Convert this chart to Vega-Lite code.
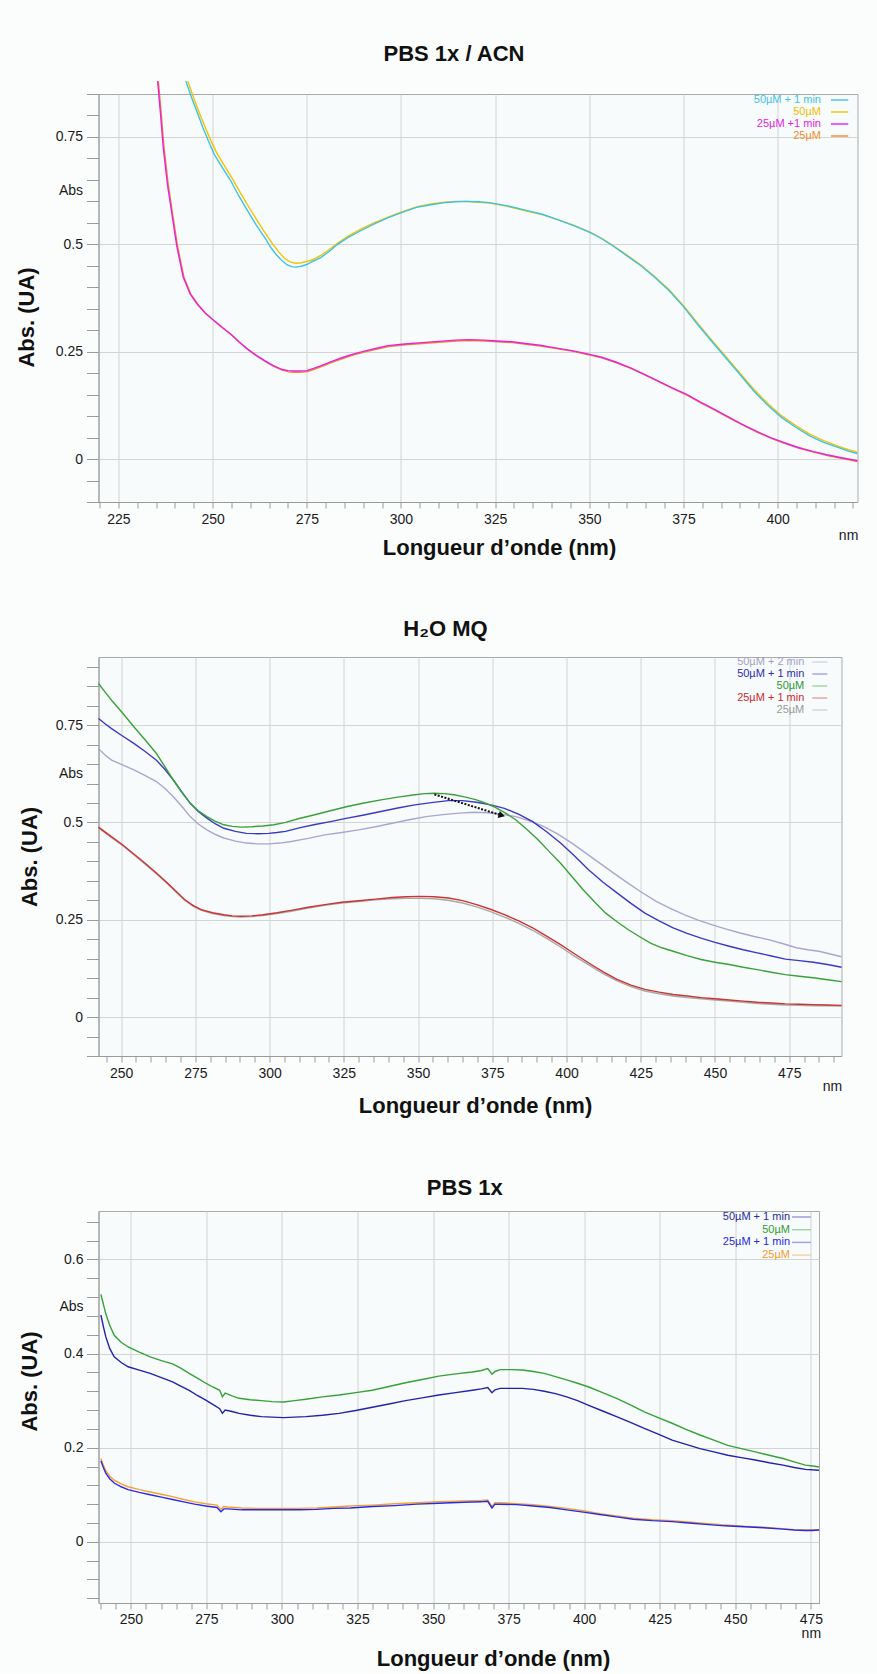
{
"$schema": "https://vega.github.io/schema/vega-lite/v6.json",
"padding": {"left": 14.5, "top": 42, "right": 18, "bottom": 2},
"background": "#fbfdfd",
"spacing": 155,
"bounds": "flush",
"resolve": {"scale": {"color": "independent", "x": "independent", "y": "independent"}, "legend": {"color": "independent"}, "axis": {"x": "independent", "y": "independent"}},
"config": {
  "view": {"stroke": "#a9a9a9", "fill": "#f7fbfb"},
  "font": "Liberation Sans",
  "axis": {"domainColor": "#9a9a9a", "tickColor": "#9a9a9a", "gridColor": "#d4d4d4", "labelColor": "#1a1a1a", "labelFont": "Liberation Sans", "labelFontSize": 14, "titleFont": "Liberation Sans", "titleFontSize": 22, "titleFontWeight": "bold", "titleColor": "#111111", "labelOverlap": false, "labelFlush": false, "labelBound": false},
  "title": {"font": "Liberation Sans", "fontSize": 22, "fontWeight": "bold", "color": "#111111", "baseline": "alphabetic", "frame": "group", "anchor": "middle"},
  "line": {"strokeWidth": 1.4, "clip": false}
},
"datasets": {
"acn": [
{"s":"50µM","x":243.4,"y":0.880},{"s":"50µM","x":245.0,"y":0.840},{"s":"50µM","x":246.5,"y":0.805},{"s":"50µM","x":248.0,"y":0.773},{"s":"50µM","x":249.5,"y":0.742},{"s":"50µM","x":251.0,"y":0.714},{"s":"50µM","x":253.0,"y":0.685},{"s":"50µM","x":255.3,"y":0.652},{"s":"50µM","x":257.5,"y":0.618},{"s":"50µM","x":259.8,"y":0.584},{"s":"50µM","x":262.0,"y":0.553},{"s":"50µM","x":264.2,"y":0.523},{"s":"50µM","x":266.0,"y":0.500},{"s":"50µM","x":267.5,"y":0.483},{"s":"50µM","x":269.0,"y":0.468},{"s":"50µM","x":270.5,"y":0.459},{"s":"50µM","x":272.0,"y":0.456},{"s":"50µM","x":273.5,"y":0.457},{"s":"50µM","x":275.0,"y":0.460},{"s":"50µM","x":276.5,"y":0.464},{"s":"50µM","x":278.7,"y":0.474},{"s":"50µM","x":281.0,"y":0.488},{"s":"50µM","x":283.2,"y":0.503},{"s":"50µM","x":286.0,"y":0.519},{"s":"50µM","x":289.2,"y":0.535},{"s":"50µM","x":292.5,"y":0.549},{"s":"50µM","x":296.6,"y":0.563},{"s":"50µM","x":300.0,"y":0.575},{"s":"50µM","x":304.1,"y":0.587},{"s":"50µM","x":308.0,"y":0.594},{"s":"50µM","x":311.5,"y":0.598},{"s":"50µM","x":314.5,"y":0.600},{"s":"50µM","x":317.5,"y":0.600},{"s":"50µM","x":320.5,"y":0.598},{"s":"50µM","x":323.5,"y":0.596},{"s":"50µM","x":328.0,"y":0.589},{"s":"50µM","x":333.9,"y":0.576},{"s":"50µM","x":337.5,"y":0.569},{"s":"50µM","x":341.4,"y":0.558},{"s":"50µM","x":346.0,"y":0.544},{"s":"50µM","x":350.3,"y":0.528},{"s":"50µM","x":353.3,"y":0.514},{"s":"50µM","x":356.3,"y":0.497},{"s":"50µM","x":360.0,"y":0.475},{"s":"50µM","x":363.7,"y":0.452},{"s":"50µM","x":367.5,"y":0.424},{"s":"50µM","x":371.2,"y":0.394},{"s":"50µM","x":375.0,"y":0.357},{"s":"50µM","x":378.7,"y":0.317},{"s":"50µM","x":382.4,"y":0.278},{"s":"50µM","x":386.1,"y":0.240},{"s":"50µM","x":390.0,"y":0.200},{"s":"50µM","x":393.6,"y":0.163},{"s":"50µM","x":397.3,"y":0.130},{"s":"50µM","x":401.0,"y":0.101},{"s":"50µM","x":404.8,"y":0.078},{"s":"50µM","x":408.5,"y":0.058},{"s":"50µM","x":412.2,"y":0.043},{"s":"50µM","x":416.0,"y":0.030},{"s":"50µM","x":419.0,"y":0.021},{"s":"50µM","x":421.2,"y":0.016},
{"s":"25µM","x":235.6,"y":0.880},{"s":"25µM","x":236.4,"y":0.800},{"s":"25µM","x":237.1,"y":0.725},{"s":"25µM","x":238.2,"y":0.640},{"s":"25µM","x":239.4,"y":0.570},{"s":"25µM","x":240.7,"y":0.495},{"s":"25µM","x":242.4,"y":0.423},{"s":"25µM","x":244.2,"y":0.384},{"s":"25µM","x":246.1,"y":0.360},{"s":"25µM","x":248.2,"y":0.339},{"s":"25µM","x":250.6,"y":0.321},{"s":"25µM","x":252.7,"y":0.305},{"s":"25µM","x":255.0,"y":0.289},{"s":"25µM","x":257.2,"y":0.271},{"s":"25µM","x":259.5,"y":0.254},{"s":"25µM","x":261.7,"y":0.240},{"s":"25µM","x":264.0,"y":0.227},{"s":"25µM","x":266.2,"y":0.216},{"s":"25µM","x":268.5,"y":0.207},{"s":"25µM","x":270.2,"y":0.203},{"s":"25µM","x":271.4,"y":0.202},{"s":"25µM","x":273.2,"y":0.202},{"s":"25µM","x":275.2,"y":0.204},{"s":"25µM","x":277.0,"y":0.209},{"s":"25µM","x":278.9,"y":0.215},{"s":"25µM","x":281.7,"y":0.225},{"s":"25µM","x":284.9,"y":0.235},{"s":"25µM","x":287.7,"y":0.243},{"s":"25µM","x":290.8,"y":0.250},{"s":"25µM","x":293.7,"y":0.256},{"s":"25µM","x":296.8,"y":0.262},{"s":"25µM","x":301.2,"y":0.266},{"s":"25µM","x":305.8,"y":0.269},{"s":"25µM","x":310.2,"y":0.272},{"s":"25µM","x":314.7,"y":0.275},{"s":"25µM","x":318.2,"y":0.276},{"s":"25µM","x":322.2,"y":0.275},{"s":"25µM","x":325.7,"y":0.273},{"s":"25µM","x":329.6,"y":0.271},{"s":"25µM","x":333.2,"y":0.267},{"s":"25µM","x":337.1,"y":0.263},{"s":"25µM","x":341.2,"y":0.257},{"s":"25µM","x":346.0,"y":0.250},{"s":"25µM","x":349.7,"y":0.243},{"s":"25µM","x":353.5,"y":0.235},{"s":"25µM","x":357.2,"y":0.224},{"s":"25µM","x":361.0,"y":0.211},{"s":"25µM","x":364.7,"y":0.196},{"s":"25µM","x":368.4,"y":0.180},{"s":"25µM","x":372.2,"y":0.164},{"s":"25µM","x":375.9,"y":0.149},{"s":"25µM","x":379.6,"y":0.131},{"s":"25µM","x":383.3,"y":0.114},{"s":"25µM","x":387.1,"y":0.096},{"s":"25µM","x":390.8,"y":0.079},{"s":"25µM","x":394.5,"y":0.063},{"s":"25µM","x":398.3,"y":0.048},{"s":"25µM","x":402.0,"y":0.036},{"s":"25µM","x":405.7,"y":0.025},{"s":"25µM","x":409.5,"y":0.016},{"s":"25µM","x":413.2,"y":0.008},{"s":"25µM","x":417.2,"y":0.001},{"s":"25µM","x":421.2,"y":-0.006},
{"s":"50µM + 1 min","x":242.9,"y":0.880},{"s":"50µM + 1 min","x":244.4,"y":0.842},{"s":"50µM + 1 min","x":246.0,"y":0.805},{"s":"50µM + 1 min","x":247.4,"y":0.772},{"s":"50µM + 1 min","x":249.0,"y":0.738},{"s":"50µM + 1 min","x":250.4,"y":0.710},{"s":"50µM + 1 min","x":252.5,"y":0.680},{"s":"50µM + 1 min","x":254.8,"y":0.648},{"s":"50µM + 1 min","x":257.0,"y":0.612},{"s":"50µM + 1 min","x":259.3,"y":0.578},{"s":"50µM + 1 min","x":261.5,"y":0.546},{"s":"50µM + 1 min","x":263.8,"y":0.516},{"s":"50µM + 1 min","x":265.5,"y":0.492},{"s":"50µM + 1 min","x":266.8,"y":0.477},{"s":"50µM + 1 min","x":268.3,"y":0.463},{"s":"50µM + 1 min","x":269.8,"y":0.452},{"s":"50µM + 1 min","x":271.0,"y":0.448},{"s":"50µM + 1 min","x":272.0,"y":0.447},{"s":"50µM + 1 min","x":273.5,"y":0.449},{"s":"50µM + 1 min","x":275.0,"y":0.453},{"s":"50µM + 1 min","x":276.5,"y":0.460},{"s":"50µM + 1 min","x":278.7,"y":0.469},{"s":"50µM + 1 min","x":281.0,"y":0.484},{"s":"50µM + 1 min","x":283.2,"y":0.500},{"s":"50µM + 1 min","x":286.0,"y":0.516},{"s":"50µM + 1 min","x":289.2,"y":0.531},{"s":"50µM + 1 min","x":292.5,"y":0.546},{"s":"50µM + 1 min","x":296.6,"y":0.562},{"s":"50µM + 1 min","x":300.0,"y":0.573},{"s":"50µM + 1 min","x":304.1,"y":0.586},{"s":"50µM + 1 min","x":308.0,"y":0.592},{"s":"50µM + 1 min","x":311.5,"y":0.597},{"s":"50µM + 1 min","x":314.5,"y":0.599},{"s":"50µM + 1 min","x":317.5,"y":0.600},{"s":"50µM + 1 min","x":320.5,"y":0.599},{"s":"50µM + 1 min","x":323.5,"y":0.597},{"s":"50µM + 1 min","x":328.0,"y":0.590},{"s":"50µM + 1 min","x":333.9,"y":0.578},{"s":"50µM + 1 min","x":337.5,"y":0.570},{"s":"50µM + 1 min","x":341.4,"y":0.558},{"s":"50µM + 1 min","x":346.0,"y":0.543},{"s":"50µM + 1 min","x":350.3,"y":0.527},{"s":"50µM + 1 min","x":353.3,"y":0.513},{"s":"50µM + 1 min","x":356.3,"y":0.496},{"s":"50µM + 1 min","x":360.0,"y":0.473},{"s":"50µM + 1 min","x":363.7,"y":0.450},{"s":"50µM + 1 min","x":367.5,"y":0.422},{"s":"50µM + 1 min","x":371.2,"y":0.392},{"s":"50µM + 1 min","x":375.0,"y":0.355},{"s":"50µM + 1 min","x":378.7,"y":0.314},{"s":"50µM + 1 min","x":382.4,"y":0.275},{"s":"50µM + 1 min","x":386.1,"y":0.237},{"s":"50µM + 1 min","x":390.0,"y":0.197},{"s":"50µM + 1 min","x":393.6,"y":0.159},{"s":"50µM + 1 min","x":397.3,"y":0.126},{"s":"50µM + 1 min","x":401.0,"y":0.097},{"s":"50µM + 1 min","x":404.8,"y":0.074},{"s":"50µM + 1 min","x":408.5,"y":0.054},{"s":"50µM + 1 min","x":412.2,"y":0.039},{"s":"50µM + 1 min","x":416.0,"y":0.027},{"s":"50µM + 1 min","x":419.0,"y":0.018},{"s":"50µM + 1 min","x":421.2,"y":0.013},
{"s":"25µM +1 min","x":235.4,"y":0.880},{"s":"25µM +1 min","x":236.2,"y":0.800},{"s":"25µM +1 min","x":236.9,"y":0.725},{"s":"25µM +1 min","x":238.0,"y":0.640},{"s":"25µM +1 min","x":239.2,"y":0.570},{"s":"25µM +1 min","x":240.5,"y":0.495},{"s":"25µM +1 min","x":242.2,"y":0.423},{"s":"25µM +1 min","x":244.0,"y":0.385},{"s":"25µM +1 min","x":245.9,"y":0.361},{"s":"25µM +1 min","x":248.0,"y":0.340},{"s":"25µM +1 min","x":250.4,"y":0.322},{"s":"25µM +1 min","x":252.5,"y":0.307},{"s":"25µM +1 min","x":254.8,"y":0.291},{"s":"25µM +1 min","x":257.0,"y":0.273},{"s":"25µM +1 min","x":259.3,"y":0.256},{"s":"25µM +1 min","x":261.5,"y":0.242},{"s":"25µM +1 min","x":263.8,"y":0.229},{"s":"25µM +1 min","x":266.0,"y":0.218},{"s":"25µM +1 min","x":268.3,"y":0.209},{"s":"25µM +1 min","x":270.0,"y":0.206},{"s":"25µM +1 min","x":271.2,"y":0.205},{"s":"25µM +1 min","x":273.0,"y":0.205},{"s":"25µM +1 min","x":275.0,"y":0.206},{"s":"25µM +1 min","x":276.8,"y":0.211},{"s":"25µM +1 min","x":278.7,"y":0.217},{"s":"25µM +1 min","x":281.5,"y":0.227},{"s":"25µM +1 min","x":284.7,"y":0.237},{"s":"25µM +1 min","x":287.5,"y":0.245},{"s":"25µM +1 min","x":290.6,"y":0.252},{"s":"25µM +1 min","x":293.5,"y":0.258},{"s":"25µM +1 min","x":296.6,"y":0.264},{"s":"25µM +1 min","x":301.0,"y":0.268},{"s":"25µM +1 min","x":305.6,"y":0.271},{"s":"25µM +1 min","x":310.0,"y":0.274},{"s":"25µM +1 min","x":314.5,"y":0.277},{"s":"25µM +1 min","x":318.0,"y":0.278},{"s":"25µM +1 min","x":322.0,"y":0.277},{"s":"25µM +1 min","x":325.5,"y":0.275},{"s":"25µM +1 min","x":329.4,"y":0.273},{"s":"25µM +1 min","x":333.0,"y":0.269},{"s":"25µM +1 min","x":336.9,"y":0.265},{"s":"25µM +1 min","x":341.0,"y":0.259},{"s":"25µM +1 min","x":345.8,"y":0.252},{"s":"25µM +1 min","x":349.5,"y":0.245},{"s":"25µM +1 min","x":353.3,"y":0.237},{"s":"25µM +1 min","x":357.0,"y":0.226},{"s":"25µM +1 min","x":360.8,"y":0.213},{"s":"25µM +1 min","x":364.5,"y":0.198},{"s":"25µM +1 min","x":368.2,"y":0.182},{"s":"25µM +1 min","x":372.0,"y":0.166},{"s":"25µM +1 min","x":375.7,"y":0.151},{"s":"25µM +1 min","x":379.4,"y":0.133},{"s":"25µM +1 min","x":383.1,"y":0.116},{"s":"25µM +1 min","x":386.9,"y":0.098},{"s":"25µM +1 min","x":390.6,"y":0.081},{"s":"25µM +1 min","x":394.3,"y":0.065},{"s":"25µM +1 min","x":398.1,"y":0.050},{"s":"25µM +1 min","x":401.8,"y":0.038},{"s":"25µM +1 min","x":405.5,"y":0.027},{"s":"25µM +1 min","x":409.3,"y":0.018},{"s":"25µM +1 min","x":413.0,"y":0.010},{"s":"25µM +1 min","x":417.0,"y":0.003},{"s":"25µM +1 min","x":421.2,"y":-0.004}
],
"h2o": [
{"s":"25µM","x":242.4,"y":0.486},{"s":"25µM","x":246.5,"y":0.463},{"s":"25µM","x":250.6,"y":0.440},{"s":"25µM","x":254.3,"y":0.417},{"s":"25µM","x":258.1,"y":0.393},{"s":"25µM","x":261.9,"y":0.368},{"s":"25µM","x":265.7,"y":0.342},{"s":"25µM","x":268.5,"y":0.321},{"s":"25µM","x":271.4,"y":0.300},{"s":"25µM","x":274.2,"y":0.285},{"s":"25µM","x":277.0,"y":0.274},{"s":"25µM","x":280.8,"y":0.266},{"s":"25µM","x":284.6,"y":0.261},{"s":"25µM","x":287.5,"y":0.258},{"s":"25µM","x":290.3,"y":0.257},{"s":"25µM","x":294.0,"y":0.258},{"s":"25µM","x":297.8,"y":0.261},{"s":"25µM","x":302.5,"y":0.266},{"s":"25µM","x":307.3,"y":0.272},{"s":"25µM","x":313.0,"y":0.280},{"s":"25µM","x":318.6,"y":0.287},{"s":"25µM","x":324.3,"y":0.293},{"s":"25µM","x":330.0,"y":0.297},{"s":"25µM","x":335.7,"y":0.301},{"s":"25µM","x":341.3,"y":0.304},{"s":"25µM","x":346.0,"y":0.305},{"s":"25µM","x":350.8,"y":0.305},{"s":"25µM","x":355.5,"y":0.304},{"s":"25µM","x":360.2,"y":0.300},{"s":"25µM","x":365.0,"y":0.293},{"s":"25µM","x":369.7,"y":0.283},{"s":"25µM","x":374.4,"y":0.271},{"s":"25µM","x":379.1,"y":0.257},{"s":"25µM","x":383.9,"y":0.241},{"s":"25µM","x":388.6,"y":0.223},{"s":"25µM","x":393.3,"y":0.202},{"s":"25µM","x":398.0,"y":0.180},{"s":"25µM","x":402.8,"y":0.156},{"s":"25µM","x":407.5,"y":0.134},{"s":"25µM","x":412.2,"y":0.112},{"s":"25µM","x":417.0,"y":0.093},{"s":"25µM","x":421.7,"y":0.078},{"s":"25µM","x":426.4,"y":0.067},{"s":"25µM","x":431.2,"y":0.060},{"s":"25µM","x":435.9,"y":0.054},{"s":"25µM","x":440.6,"y":0.050},{"s":"25µM","x":445.3,"y":0.047},{"s":"25µM","x":450.0,"y":0.044},{"s":"25µM","x":454.8,"y":0.041},{"s":"25µM","x":459.5,"y":0.038},{"s":"25µM","x":464.2,"y":0.035},{"s":"25µM","x":469.0,"y":0.033},{"s":"25µM","x":473.7,"y":0.031},{"s":"25µM","x":478.4,"y":0.030},{"s":"25µM","x":483.1,"y":0.029},{"s":"25µM","x":487.9,"y":0.029},{"s":"25µM","x":492.6,"y":0.028},
{"s":"25µM + 1 min","x":242.4,"y":0.488},{"s":"25µM + 1 min","x":246.5,"y":0.465},{"s":"25µM + 1 min","x":250.6,"y":0.442},{"s":"25µM + 1 min","x":254.3,"y":0.419},{"s":"25µM + 1 min","x":258.1,"y":0.395},{"s":"25µM + 1 min","x":261.9,"y":0.370},{"s":"25µM + 1 min","x":265.7,"y":0.344},{"s":"25µM + 1 min","x":268.5,"y":0.323},{"s":"25µM + 1 min","x":271.4,"y":0.302},{"s":"25µM + 1 min","x":274.2,"y":0.287},{"s":"25µM + 1 min","x":277.0,"y":0.276},{"s":"25µM + 1 min","x":280.8,"y":0.268},{"s":"25µM + 1 min","x":284.6,"y":0.263},{"s":"25µM + 1 min","x":287.5,"y":0.260},{"s":"25µM + 1 min","x":290.3,"y":0.259},{"s":"25µM + 1 min","x":294.0,"y":0.260},{"s":"25µM + 1 min","x":297.8,"y":0.263},{"s":"25µM + 1 min","x":302.5,"y":0.268},{"s":"25µM + 1 min","x":307.3,"y":0.274},{"s":"25µM + 1 min","x":313.0,"y":0.282},{"s":"25µM + 1 min","x":318.6,"y":0.289},{"s":"25µM + 1 min","x":324.3,"y":0.295},{"s":"25µM + 1 min","x":330.0,"y":0.299},{"s":"25µM + 1 min","x":335.7,"y":0.303},{"s":"25µM + 1 min","x":341.3,"y":0.307},{"s":"25µM + 1 min","x":346.0,"y":0.309},{"s":"25µM + 1 min","x":350.8,"y":0.310},{"s":"25µM + 1 min","x":355.5,"y":0.309},{"s":"25µM + 1 min","x":360.2,"y":0.306},{"s":"25µM + 1 min","x":365.0,"y":0.299},{"s":"25µM + 1 min","x":369.7,"y":0.289},{"s":"25µM + 1 min","x":374.4,"y":0.277},{"s":"25µM + 1 min","x":379.1,"y":0.263},{"s":"25µM + 1 min","x":383.9,"y":0.247},{"s":"25µM + 1 min","x":388.6,"y":0.229},{"s":"25µM + 1 min","x":393.3,"y":0.208},{"s":"25µM + 1 min","x":398.0,"y":0.186},{"s":"25µM + 1 min","x":402.8,"y":0.162},{"s":"25µM + 1 min","x":407.5,"y":0.139},{"s":"25µM + 1 min","x":412.2,"y":0.117},{"s":"25µM + 1 min","x":417.0,"y":0.097},{"s":"25µM + 1 min","x":421.7,"y":0.082},{"s":"25µM + 1 min","x":426.4,"y":0.071},{"s":"25µM + 1 min","x":431.2,"y":0.064},{"s":"25µM + 1 min","x":435.9,"y":0.058},{"s":"25µM + 1 min","x":440.6,"y":0.054},{"s":"25µM + 1 min","x":445.3,"y":0.050},{"s":"25µM + 1 min","x":450.0,"y":0.047},{"s":"25µM + 1 min","x":454.8,"y":0.044},{"s":"25µM + 1 min","x":459.5,"y":0.041},{"s":"25µM + 1 min","x":464.2,"y":0.038},{"s":"25µM + 1 min","x":469.0,"y":0.036},{"s":"25µM + 1 min","x":473.7,"y":0.034},{"s":"25µM + 1 min","x":478.4,"y":0.033},{"s":"25µM + 1 min","x":483.1,"y":0.032},{"s":"25µM + 1 min","x":487.9,"y":0.031},{"s":"25µM + 1 min","x":492.6,"y":0.030},
{"s":"50µM + 2 min","x":242.4,"y":0.690},{"s":"50µM + 2 min","x":244.5,"y":0.674},{"s":"50µM + 2 min","x":246.8,"y":0.660},{"s":"50µM + 2 min","x":250.5,"y":0.648},{"s":"50µM + 2 min","x":254.3,"y":0.635},{"s":"50µM + 2 min","x":258.0,"y":0.621},{"s":"50µM + 2 min","x":261.9,"y":0.605},{"s":"50µM + 2 min","x":264.8,"y":0.587},{"s":"50µM + 2 min","x":267.6,"y":0.566},{"s":"50µM + 2 min","x":270.5,"y":0.541},{"s":"50µM + 2 min","x":273.3,"y":0.515},{"s":"50µM + 2 min","x":276.0,"y":0.496},{"s":"50µM + 2 min","x":278.9,"y":0.481},{"s":"50µM + 2 min","x":281.8,"y":0.469},{"s":"50µM + 2 min","x":284.6,"y":0.460},{"s":"50µM + 2 min","x":288.5,"y":0.452},{"s":"50µM + 2 min","x":292.2,"y":0.447},{"s":"50µM + 2 min","x":296.0,"y":0.445},{"s":"50µM + 2 min","x":299.7,"y":0.445},{"s":"50µM + 2 min","x":303.5,"y":0.447},{"s":"50µM + 2 min","x":307.3,"y":0.451},{"s":"50µM + 2 min","x":313.0,"y":0.459},{"s":"50µM + 2 min","x":318.6,"y":0.468},{"s":"50µM + 2 min","x":324.3,"y":0.474},{"s":"50µM + 2 min","x":330.0,"y":0.481},{"s":"50µM + 2 min","x":335.7,"y":0.489},{"s":"50µM + 2 min","x":341.3,"y":0.498},{"s":"50µM + 2 min","x":347.0,"y":0.507},{"s":"50µM + 2 min","x":352.7,"y":0.515},{"s":"50µM + 2 min","x":358.3,"y":0.520},{"s":"50µM + 2 min","x":364.0,"y":0.524},{"s":"50µM + 2 min","x":368.8,"y":0.526},{"s":"50µM + 2 min","x":373.5,"y":0.525},{"s":"50µM + 2 min","x":378.2,"y":0.521},{"s":"50µM + 2 min","x":382.9,"y":0.515},{"s":"50µM + 2 min","x":387.6,"y":0.504},{"s":"50µM + 2 min","x":392.4,"y":0.489},{"s":"50µM + 2 min","x":397.1,"y":0.470},{"s":"50µM + 2 min","x":401.8,"y":0.447},{"s":"50µM + 2 min","x":406.5,"y":0.421},{"s":"50µM + 2 min","x":411.3,"y":0.395},{"s":"50µM + 2 min","x":416.0,"y":0.369},{"s":"50µM + 2 min","x":420.7,"y":0.344},{"s":"50µM + 2 min","x":425.4,"y":0.320},{"s":"50µM + 2 min","x":430.2,"y":0.297},{"s":"50µM + 2 min","x":434.9,"y":0.279},{"s":"50µM + 2 min","x":439.6,"y":0.263},{"s":"50µM + 2 min","x":444.3,"y":0.249},{"s":"50µM + 2 min","x":449.1,"y":0.237},{"s":"50µM + 2 min","x":453.8,"y":0.226},{"s":"50µM + 2 min","x":458.5,"y":0.216},{"s":"50µM + 2 min","x":463.2,"y":0.207},{"s":"50µM + 2 min","x":468.0,"y":0.199},{"s":"50µM + 2 min","x":472.7,"y":0.189},{"s":"50µM + 2 min","x":477.4,"y":0.178},{"s":"50µM + 2 min","x":481.2,"y":0.173},{"s":"50µM + 2 min","x":485.0,"y":0.169},{"s":"50µM + 2 min","x":488.8,"y":0.162},{"s":"50µM + 2 min","x":492.6,"y":0.155},
{"s":"50µM + 1 min","x":242.4,"y":0.767},{"s":"50µM + 1 min","x":244.5,"y":0.754},{"s":"50µM + 1 min","x":246.8,"y":0.741},{"s":"50µM + 1 min","x":250.5,"y":0.722},{"s":"50µM + 1 min","x":254.3,"y":0.703},{"s":"50µM + 1 min","x":258.0,"y":0.683},{"s":"50µM + 1 min","x":261.9,"y":0.660},{"s":"50µM + 1 min","x":264.8,"y":0.636},{"s":"50µM + 1 min","x":267.6,"y":0.609},{"s":"50µM + 1 min","x":270.5,"y":0.578},{"s":"50µM + 1 min","x":273.3,"y":0.549},{"s":"50µM + 1 min","x":276.0,"y":0.528},{"s":"50µM + 1 min","x":278.9,"y":0.511},{"s":"50µM + 1 min","x":281.8,"y":0.496},{"s":"50µM + 1 min","x":284.6,"y":0.485},{"s":"50µM + 1 min","x":288.5,"y":0.477},{"s":"50µM + 1 min","x":292.2,"y":0.472},{"s":"50µM + 1 min","x":296.0,"y":0.471},{"s":"50µM + 1 min","x":299.7,"y":0.472},{"s":"50µM + 1 min","x":302.5,"y":0.474},{"s":"50µM + 1 min","x":305.4,"y":0.477},{"s":"50µM + 1 min","x":310.0,"y":0.486},{"s":"50µM + 1 min","x":314.9,"y":0.494},{"s":"50µM + 1 min","x":320.5,"y":0.502},{"s":"50µM + 1 min","x":326.2,"y":0.511},{"s":"50µM + 1 min","x":331.8,"y":0.519},{"s":"50µM + 1 min","x":337.5,"y":0.528},{"s":"50µM + 1 min","x":343.2,"y":0.537},{"s":"50µM + 1 min","x":348.9,"y":0.545},{"s":"50µM + 1 min","x":354.5,"y":0.551},{"s":"50µM + 1 min","x":360.2,"y":0.556},{"s":"50µM + 1 min","x":365.0,"y":0.556},{"s":"50µM + 1 min","x":369.7,"y":0.552},{"s":"50µM + 1 min","x":374.5,"y":0.545},{"s":"50µM + 1 min","x":379.1,"y":0.536},{"s":"50µM + 1 min","x":384.0,"y":0.521},{"s":"50µM + 1 min","x":388.6,"y":0.502},{"s":"50µM + 1 min","x":393.3,"y":0.476},{"s":"50µM + 1 min","x":398.0,"y":0.447},{"s":"50µM + 1 min","x":402.8,"y":0.413},{"s":"50µM + 1 min","x":407.5,"y":0.378},{"s":"50µM + 1 min","x":412.2,"y":0.347},{"s":"50µM + 1 min","x":417.0,"y":0.319},{"s":"50µM + 1 min","x":421.7,"y":0.292},{"s":"50µM + 1 min","x":426.4,"y":0.267},{"s":"50µM + 1 min","x":431.2,"y":0.247},{"s":"50µM + 1 min","x":435.9,"y":0.229},{"s":"50µM + 1 min","x":440.6,"y":0.215},{"s":"50µM + 1 min","x":445.3,"y":0.203},{"s":"50µM + 1 min","x":450.0,"y":0.192},{"s":"50µM + 1 min","x":454.8,"y":0.182},{"s":"50µM + 1 min","x":459.5,"y":0.173},{"s":"50µM + 1 min","x":464.2,"y":0.165},{"s":"50µM + 1 min","x":469.0,"y":0.157},{"s":"50µM + 1 min","x":473.7,"y":0.149},{"s":"50µM + 1 min","x":478.4,"y":0.145},{"s":"50µM + 1 min","x":483.1,"y":0.141},{"s":"50µM + 1 min","x":487.9,"y":0.135},{"s":"50µM + 1 min","x":492.6,"y":0.128},
{"s":"50µM","x":242.4,"y":0.857},{"s":"50µM","x":244.5,"y":0.836},{"s":"50µM","x":246.8,"y":0.814},{"s":"50µM","x":250.5,"y":0.781},{"s":"50µM","x":254.3,"y":0.746},{"s":"50µM","x":258.0,"y":0.713},{"s":"50µM","x":261.9,"y":0.677},{"s":"50µM","x":264.8,"y":0.643},{"s":"50µM","x":267.6,"y":0.609},{"s":"50µM","x":270.5,"y":0.577},{"s":"50µM","x":273.3,"y":0.549},{"s":"50µM","x":276.0,"y":0.530},{"s":"50µM","x":278.9,"y":0.515},{"s":"50µM","x":281.8,"y":0.503},{"s":"50µM","x":284.6,"y":0.494},{"s":"50µM","x":287.5,"y":0.490},{"s":"50µM","x":290.3,"y":0.488},{"s":"50µM","x":294.0,"y":0.489},{"s":"50µM","x":297.8,"y":0.491},{"s":"50µM","x":301.5,"y":0.494},{"s":"50µM","x":305.4,"y":0.500},{"s":"50µM","x":310.0,"y":0.510},{"s":"50µM","x":314.9,"y":0.519},{"s":"50µM","x":320.5,"y":0.530},{"s":"50µM","x":326.2,"y":0.541},{"s":"50µM","x":331.8,"y":0.550},{"s":"50µM","x":337.5,"y":0.558},{"s":"50µM","x":343.2,"y":0.565},{"s":"50µM","x":348.9,"y":0.571},{"s":"50µM","x":352.2,"y":0.574},{"s":"50µM","x":355.5,"y":0.575},{"s":"50µM","x":358.8,"y":0.574},{"s":"50µM","x":362.1,"y":0.571},{"s":"50µM","x":366.0,"y":0.565},{"s":"50µM","x":369.7,"y":0.558},{"s":"50µM","x":372.5,"y":0.550},{"s":"50µM","x":375.4,"y":0.541},{"s":"50µM","x":379.2,"y":0.525},{"s":"50µM","x":382.9,"y":0.507},{"s":"50µM","x":386.7,"y":0.482},{"s":"50µM","x":390.5,"y":0.455},{"s":"50µM","x":394.2,"y":0.425},{"s":"50µM","x":398.0,"y":0.395},{"s":"50µM","x":401.8,"y":0.361},{"s":"50µM","x":405.6,"y":0.327},{"s":"50µM","x":409.4,"y":0.296},{"s":"50µM","x":413.2,"y":0.267},{"s":"50µM","x":417.0,"y":0.245},{"s":"50µM","x":420.7,"y":0.225},{"s":"50µM","x":424.5,"y":0.207},{"s":"50µM","x":428.3,"y":0.190},{"s":"50µM","x":432.1,"y":0.178},{"s":"50µM","x":435.9,"y":0.169},{"s":"50µM","x":440.6,"y":0.158},{"s":"50µM","x":445.3,"y":0.148},{"s":"50µM","x":450.0,"y":0.141},{"s":"50µM","x":454.8,"y":0.135},{"s":"50µM","x":459.5,"y":0.128},{"s":"50µM","x":464.2,"y":0.122},{"s":"50µM","x":469.0,"y":0.115},{"s":"50µM","x":473.7,"y":0.109},{"s":"50µM","x":478.4,"y":0.105},{"s":"50µM","x":483.1,"y":0.101},{"s":"50µM","x":487.9,"y":0.096},{"s":"50µM","x":492.6,"y":0.091}
],
"pbs": [
{"s":"25µM","x":240.1,"y":0.177},{"s":"25µM","x":240.9,"y":0.163},{"s":"25µM","x":241.7,"y":0.152},{"s":"25µM","x":243.0,"y":0.140},{"s":"25µM","x":244.5,"y":0.131},{"s":"25µM","x":246.8,"y":0.123},{"s":"25µM","x":249.1,"y":0.117},{"s":"25µM","x":252.8,"y":0.111},{"s":"25µM","x":256.4,"y":0.106},{"s":"25µM","x":260.1,"y":0.101},{"s":"25µM","x":263.8,"y":0.096},{"s":"25µM","x":267.5,"y":0.090},{"s":"25µM","x":271.1,"y":0.085},{"s":"25µM","x":274.8,"y":0.081},{"s":"25µM","x":278.5,"y":0.078},{"s":"25µM","x":279.8,"y":0.069},{"s":"25µM","x":280.8,"y":0.075},{"s":"25µM","x":282.1,"y":0.074},{"s":"25µM","x":286.7,"y":0.072},{"s":"25µM","x":291.3,"y":0.071},{"s":"25µM","x":295.9,"y":0.071},{"s":"25µM","x":300.5,"y":0.071},{"s":"25µM","x":306.0,"y":0.071},{"s":"25µM","x":311.5,"y":0.072},{"s":"25µM","x":317.0,"y":0.074},{"s":"25µM","x":322.6,"y":0.076},{"s":"25µM","x":330.0,"y":0.078},{"s":"25µM","x":337.3,"y":0.081},{"s":"25µM","x":344.6,"y":0.083},{"s":"25µM","x":351.9,"y":0.085},{"s":"25µM","x":360.0,"y":0.087},{"s":"25µM","x":366.0,"y":0.088},{"s":"25µM","x":368.1,"y":0.089},{"s":"25µM","x":369.5,"y":0.075},{"s":"25µM","x":370.5,"y":0.083},{"s":"25µM","x":372.2,"y":0.083},{"s":"25µM","x":377.7,"y":0.081},{"s":"25µM","x":383.2,"y":0.079},{"s":"25µM","x":388.7,"y":0.075},{"s":"25µM","x":394.2,"y":0.071},{"s":"25µM","x":399.7,"y":0.066},{"s":"25µM","x":405.2,"y":0.060},{"s":"25µM","x":410.7,"y":0.055},{"s":"25µM","x":416.2,"y":0.050},{"s":"25µM","x":422.6,"y":0.047},{"s":"25µM","x":429.1,"y":0.045},{"s":"25µM","x":434.6,"y":0.042},{"s":"25µM","x":440.1,"y":0.039},{"s":"25µM","x":446.5,"y":0.036},{"s":"25µM","x":453.0,"y":0.033},{"s":"25µM","x":459.4,"y":0.031},{"s":"25µM","x":465.8,"y":0.028},{"s":"25µM","x":469.5,"y":0.026},{"s":"25µM","x":473.2,"y":0.025},{"s":"25µM","x":475.5,"y":0.026},{"s":"25µM","x":477.7,"y":0.026},
{"s":"25µM + 1 min","x":240.1,"y":0.172},{"s":"25µM + 1 min","x":240.9,"y":0.158},{"s":"25µM + 1 min","x":241.7,"y":0.146},{"s":"25µM + 1 min","x":243.0,"y":0.134},{"s":"25µM + 1 min","x":244.5,"y":0.125},{"s":"25µM + 1 min","x":246.8,"y":0.117},{"s":"25µM + 1 min","x":249.1,"y":0.111},{"s":"25µM + 1 min","x":252.8,"y":0.105},{"s":"25µM + 1 min","x":256.4,"y":0.100},{"s":"25µM + 1 min","x":260.1,"y":0.095},{"s":"25µM + 1 min","x":263.8,"y":0.090},{"s":"25µM + 1 min","x":267.5,"y":0.085},{"s":"25µM + 1 min","x":271.1,"y":0.080},{"s":"25µM + 1 min","x":274.8,"y":0.076},{"s":"25µM + 1 min","x":278.5,"y":0.073},{"s":"25µM + 1 min","x":279.8,"y":0.064},{"s":"25µM + 1 min","x":280.8,"y":0.070},{"s":"25µM + 1 min","x":282.1,"y":0.070},{"s":"25µM + 1 min","x":286.7,"y":0.068},{"s":"25µM + 1 min","x":291.3,"y":0.068},{"s":"25µM + 1 min","x":295.9,"y":0.068},{"s":"25µM + 1 min","x":300.5,"y":0.068},{"s":"25µM + 1 min","x":306.0,"y":0.068},{"s":"25µM + 1 min","x":311.5,"y":0.069},{"s":"25µM + 1 min","x":317.0,"y":0.071},{"s":"25µM + 1 min","x":322.6,"y":0.072},{"s":"25µM + 1 min","x":330.0,"y":0.075},{"s":"25µM + 1 min","x":337.3,"y":0.077},{"s":"25µM + 1 min","x":344.6,"y":0.080},{"s":"25µM + 1 min","x":351.9,"y":0.082},{"s":"25µM + 1 min","x":360.0,"y":0.084},{"s":"25µM + 1 min","x":366.0,"y":0.085},{"s":"25µM + 1 min","x":368.1,"y":0.086},{"s":"25µM + 1 min","x":369.5,"y":0.072},{"s":"25µM + 1 min","x":370.5,"y":0.080},{"s":"25µM + 1 min","x":372.2,"y":0.080},{"s":"25µM + 1 min","x":377.7,"y":0.079},{"s":"25µM + 1 min","x":383.2,"y":0.076},{"s":"25µM + 1 min","x":388.7,"y":0.073},{"s":"25µM + 1 min","x":394.2,"y":0.068},{"s":"25µM + 1 min","x":399.7,"y":0.063},{"s":"25µM + 1 min","x":405.2,"y":0.058},{"s":"25µM + 1 min","x":410.7,"y":0.053},{"s":"25µM + 1 min","x":416.2,"y":0.048},{"s":"25µM + 1 min","x":422.6,"y":0.045},{"s":"25µM + 1 min","x":429.1,"y":0.043},{"s":"25µM + 1 min","x":434.6,"y":0.040},{"s":"25µM + 1 min","x":440.1,"y":0.037},{"s":"25µM + 1 min","x":446.5,"y":0.034},{"s":"25µM + 1 min","x":453.0,"y":0.032},{"s":"25µM + 1 min","x":459.4,"y":0.030},{"s":"25µM + 1 min","x":465.8,"y":0.027},{"s":"25µM + 1 min","x":469.5,"y":0.025},{"s":"25µM + 1 min","x":473.2,"y":0.024},{"s":"25µM + 1 min","x":475.5,"y":0.024},{"s":"25µM + 1 min","x":477.7,"y":0.025},
{"s":"50µM","x":240.1,"y":0.526},{"s":"50µM","x":240.9,"y":0.505},{"s":"50µM","x":241.7,"y":0.485},{"s":"50µM","x":243.0,"y":0.460},{"s":"50µM","x":244.5,"y":0.439},{"s":"50µM","x":246.8,"y":0.424},{"s":"50µM","x":249.1,"y":0.414},{"s":"50µM","x":252.8,"y":0.403},{"s":"50µM","x":256.4,"y":0.393},{"s":"50µM","x":260.1,"y":0.385},{"s":"50µM","x":263.8,"y":0.378},{"s":"50µM","x":266.5,"y":0.369},{"s":"50µM","x":269.3,"y":0.358},{"s":"50µM","x":272.0,"y":0.348},{"s":"50µM","x":274.8,"y":0.337},{"s":"50µM","x":277.1,"y":0.329},{"s":"50µM","x":279.4,"y":0.322},{"s":"50µM","x":280.3,"y":0.308},{"s":"50µM","x":281.2,"y":0.316},{"s":"50µM","x":283.5,"y":0.310},{"s":"50µM","x":285.8,"y":0.305},{"s":"50µM","x":289.5,"y":0.302},{"s":"50µM","x":293.2,"y":0.300},{"s":"50µM","x":296.8,"y":0.298},{"s":"50µM","x":300.5,"y":0.297},{"s":"50µM","x":304.2,"y":0.300},{"s":"50µM","x":307.9,"y":0.303},{"s":"50µM","x":313.4,"y":0.308},{"s":"50µM","x":318.9,"y":0.312},{"s":"50µM","x":324.4,"y":0.317},{"s":"50µM","x":329.9,"y":0.322},{"s":"50µM","x":335.4,"y":0.330},{"s":"50µM","x":340.9,"y":0.338},{"s":"50µM","x":346.4,"y":0.345},{"s":"50µM","x":351.9,"y":0.352},{"s":"50µM","x":357.5,"y":0.357},{"s":"50µM","x":363.0,"y":0.361},{"s":"50µM","x":366.0,"y":0.364},{"s":"50µM","x":368.1,"y":0.368},{"s":"50µM","x":369.5,"y":0.356},{"s":"50µM","x":370.5,"y":0.362},{"s":"50µM","x":372.2,"y":0.366},{"s":"50µM","x":375.8,"y":0.366},{"s":"50µM","x":379.5,"y":0.365},{"s":"50µM","x":383.2,"y":0.362},{"s":"50µM","x":386.8,"y":0.358},{"s":"50µM","x":390.5,"y":0.351},{"s":"50µM","x":394.2,"y":0.344},{"s":"50µM","x":397.8,"y":0.337},{"s":"50µM","x":401.5,"y":0.329},{"s":"50µM","x":406.1,"y":0.317},{"s":"50µM","x":410.7,"y":0.305},{"s":"50µM","x":415.3,"y":0.291},{"s":"50µM","x":419.9,"y":0.276},{"s":"50µM","x":424.5,"y":0.264},{"s":"50µM","x":429.1,"y":0.252},{"s":"50µM","x":433.7,"y":0.239},{"s":"50µM","x":438.3,"y":0.227},{"s":"50µM","x":442.9,"y":0.216},{"s":"50µM","x":447.5,"y":0.205},{"s":"50µM","x":452.0,"y":0.198},{"s":"50µM","x":456.6,"y":0.191},{"s":"50µM","x":461.2,"y":0.184},{"s":"50µM","x":465.8,"y":0.177},{"s":"50µM","x":469.5,"y":0.170},{"s":"50µM","x":473.2,"y":0.163},{"s":"50µM","x":475.6,"y":0.161},{"s":"50µM","x":477.7,"y":0.159},
{"s":"50µM + 1 min","x":240.1,"y":0.482},{"s":"50µM + 1 min","x":240.9,"y":0.458},{"s":"50µM + 1 min","x":241.7,"y":0.436},{"s":"50µM + 1 min","x":243.0,"y":0.411},{"s":"50µM + 1 min","x":244.5,"y":0.393},{"s":"50µM + 1 min","x":246.8,"y":0.381},{"s":"50µM + 1 min","x":249.1,"y":0.372},{"s":"50µM + 1 min","x":252.8,"y":0.365},{"s":"50µM + 1 min","x":256.4,"y":0.358},{"s":"50µM + 1 min","x":260.1,"y":0.349},{"s":"50µM + 1 min","x":263.8,"y":0.340},{"s":"50µM + 1 min","x":266.5,"y":0.331},{"s":"50µM + 1 min","x":269.3,"y":0.322},{"s":"50µM + 1 min","x":272.0,"y":0.311},{"s":"50µM + 1 min","x":274.8,"y":0.301},{"s":"50µM + 1 min","x":277.1,"y":0.292},{"s":"50µM + 1 min","x":279.4,"y":0.283},{"s":"50µM + 1 min","x":280.3,"y":0.273},{"s":"50µM + 1 min","x":281.2,"y":0.280},{"s":"50µM + 1 min","x":283.5,"y":0.277},{"s":"50µM + 1 min","x":285.8,"y":0.273},{"s":"50µM + 1 min","x":289.5,"y":0.269},{"s":"50µM + 1 min","x":293.2,"y":0.266},{"s":"50µM + 1 min","x":296.8,"y":0.265},{"s":"50µM + 1 min","x":300.5,"y":0.264},{"s":"50µM + 1 min","x":304.2,"y":0.265},{"s":"50µM + 1 min","x":307.9,"y":0.266},{"s":"50µM + 1 min","x":313.4,"y":0.269},{"s":"50µM + 1 min","x":318.9,"y":0.273},{"s":"50µM + 1 min","x":324.4,"y":0.279},{"s":"50µM + 1 min","x":329.9,"y":0.286},{"s":"50µM + 1 min","x":335.4,"y":0.293},{"s":"50µM + 1 min","x":340.9,"y":0.300},{"s":"50µM + 1 min","x":346.4,"y":0.306},{"s":"50µM + 1 min","x":351.9,"y":0.312},{"s":"50µM + 1 min","x":357.5,"y":0.317},{"s":"50µM + 1 min","x":363.0,"y":0.322},{"s":"50µM + 1 min","x":366.0,"y":0.325},{"s":"50µM + 1 min","x":368.1,"y":0.328},{"s":"50µM + 1 min","x":369.5,"y":0.317},{"s":"50µM + 1 min","x":370.5,"y":0.323},{"s":"50µM + 1 min","x":372.2,"y":0.326},{"s":"50µM + 1 min","x":375.8,"y":0.326},{"s":"50µM + 1 min","x":379.5,"y":0.326},{"s":"50µM + 1 min","x":383.2,"y":0.324},{"s":"50µM + 1 min","x":386.8,"y":0.320},{"s":"50µM + 1 min","x":390.5,"y":0.315},{"s":"50µM + 1 min","x":394.2,"y":0.308},{"s":"50µM + 1 min","x":397.8,"y":0.300},{"s":"50µM + 1 min","x":401.5,"y":0.290},{"s":"50µM + 1 min","x":406.1,"y":0.278},{"s":"50µM + 1 min","x":410.7,"y":0.266},{"s":"50µM + 1 min","x":415.3,"y":0.254},{"s":"50µM + 1 min","x":419.9,"y":0.241},{"s":"50µM + 1 min","x":424.5,"y":0.229},{"s":"50µM + 1 min","x":429.1,"y":0.216},{"s":"50µM + 1 min","x":433.7,"y":0.207},{"s":"50µM + 1 min","x":438.3,"y":0.198},{"s":"50µM + 1 min","x":442.9,"y":0.191},{"s":"50µM + 1 min","x":447.5,"y":0.184},{"s":"50µM + 1 min","x":452.0,"y":0.179},{"s":"50µM + 1 min","x":456.6,"y":0.174},{"s":"50µM + 1 min","x":461.2,"y":0.168},{"s":"50µM + 1 min","x":465.8,"y":0.163},{"s":"50µM + 1 min","x":469.5,"y":0.158},{"s":"50µM + 1 min","x":473.2,"y":0.154},{"s":"50µM + 1 min","x":477.7,"y":0.152}
],
"arrow": [{"x":355.5,"y":0.572,"x2":378.2,"y2":0.518}]
},
"vconcat": [
{
  "width": 759, "height": 408,
  "title": {"text": "PBS 1x / ACN", "dx": -24, "offset": 12},
  "data": {"name": "acn"},
  "mark": {"type": "line", "strokeWidth": 1.4, "clip": false},
  "encoding": {
    "x": {"field": "x", "type": "quantitative", "scale": {"domain": [219.7, 421.2], "nice": false, "zero": false},
      "axis": {"title": "Longueur d’onde (nm)", "titleX": 400.5, "titleY": 35.4, "tickCount": 500,
        "values": [220,225,230,235,240,245,250,255,260,265,270,275,280,285,290,295,300,305,310,315,320,325,330,335,340,345,350,355,360,365,370,375,380,385,390,395,400,405,410,415,420,418.7],
        "labelExpr": "datum.value == 418.7 ? ['', 'nm'] : (datum.value % 25 == 0 ? '' + datum.value : '')",
        "labelLineHeight": 16,
        "tickSize": 6, "labelPadding": 4.5,
        "gridOpacity": {"condition": {"test": "datum.value % 25 == 0", "value": 1}, "value": 0},
        "tickOpacity": {"condition": {"test": "datum.value == 418.7", "value": 0}, "value": 1},
        "encode": {"ticks": {"y2": {"condition": {"test": "datum.value % 25 == 0", "value": 6}, "value": 3}}}}},
    "y": {"field": "y", "type": "quantitative", "scale": {"domain": [-0.1, 0.85], "nice": false, "zero": false},
      "axis": {"title": "Abs. (UA)", "titleX": -60, "titleY": 223, "tickCount": 500,
        "values": [-0.1,-0.05,0,0.05,0.1,0.15,0.2,0.25,0.3,0.35,0.4,0.45,0.5,0.55,0.6,0.65,0.7,0.75,0.8,0.85,0.625],
        "labelExpr": "datum.value == 0.625 ? 'Abs' : (datum.value % 0.25 == 0 ? '' + datum.value : '')",
        "tickSize": 12, "labelPadding": 4,
        "gridOpacity": {"condition": {"test": "datum.value % 0.25 == 0", "value": 1}, "value": 0},
        "tickOpacity": {"condition": {"test": "datum.value == 0.625", "value": 0}, "value": 1},
        "encode": {"ticks": {"x2": {"condition": {"test": "datum.value % 0.25 == 0", "value": -12}, "value": -6}}}}},
    "color": {"field": "s", "type": "nominal",
      "scale": {"domain": ["50µM + 1 min", "50µM", "25µM +1 min", "25µM"], "range": ["#3cc4e4", "#f3c200", "#e522e0", "#f08c2a"]},
      "legend": {"title": null, "orient": "none", "legendX": 734.6, "legendY": -0.5, "symbolType": "M-1.573,0H1.573", "symbolSize": 121, "symbolStrokeWidth": 1.5, "labelFont": "Liberation Sans", "labelFontSize": 11, "labelAlign": "right", "labelOffset": -25.15, "rowPadding": 0, "padding": 0,
        "labelColor": {"expr": "datum.value == '50µM + 1 min' ? '#3cc4e4' : datum.value == '50µM' ? '#f0be00' : datum.value == '25µM +1 min' ? '#e522e0' : '#f08c2a'"},
        "encode": {"labels": {"fill": {"condition": [{"test": "datum.value == '50µM + 1 min'", "value": "#3cc4e4"}, {"test": "datum.value == '50µM'", "value": "#f0be00"}, {"test": "datum.value == '25µM +1 min'", "value": "#e522e0"}], "value": "#f08c2a"}}}}}
  }
},
{
  "width": 743, "height": 399,
  "title": {"text": "H₂O MQ", "dx": -24.6, "offset": 15},
  "layer": [
    {
      "data": {"name": "h2o"},
      "mark": {"type": "line", "strokeWidth": 1.4},
      "encoding": {
        "x": {"field": "x", "type": "quantitative", "scale": {"domain": [242.4, 492.6], "nice": false, "zero": false},
          "axis": {"title": "Longueur d’onde (nm)", "titleX": 376.5, "titleY": 39, "tickCount": 500,
            "values": [245,250,255,260,265,270,275,280,285,290,295,300,305,310,315,320,325,330,335,340,345,350,355,360,365,370,375,380,385,390,395,400,405,410,415,420,425,430,435,440,445,450,455,460,465,470,475,480,485,490,489.4],
            "labelExpr": "datum.value == 489.4 ? ['', 'nm'] : (datum.value % 25 == 0 ? '' + datum.value : '')",
            "labelLineHeight": 13,
            "tickSize": 6, "labelPadding": 4.5,
            "gridOpacity": {"condition": {"test": "datum.value % 25 == 0", "value": 1}, "value": 0},
            "tickOpacity": {"condition": {"test": "datum.value == 489.4", "value": 0}, "value": 1},
            "encode": {"ticks": {"y2": {"condition": {"test": "datum.value % 25 == 0", "value": 6}, "value": 3}}}}},
        "y": {"field": "y", "type": "quantitative", "scale": {"domain": [-0.1, 0.925], "nice": false, "zero": false},
          "axis": {"title": "Abs. (UA)", "titleX": -57.2, "tickCount": 500,
            "values": [-0.1,-0.05,0,0.05,0.1,0.15,0.2,0.25,0.3,0.35,0.4,0.45,0.5,0.55,0.6,0.65,0.7,0.75,0.8,0.85,0.9,0.625],
            "labelExpr": "datum.value == 0.625 ? 'Abs' : (datum.value % 0.25 == 0 ? '' + datum.value : '')",
            "tickSize": 12, "labelPadding": 4,
            "gridOpacity": {"condition": {"test": "datum.value % 0.25 == 0", "value": 1}, "value": 0},
            "tickOpacity": {"condition": {"test": "datum.value == 0.625", "value": 0}, "value": 1},
            "encode": {"ticks": {"x2": {"condition": {"test": "datum.value % 0.25 == 0", "value": -12}, "value": -6}}}}},
        "color": {"field": "s", "type": "nominal",
          "scale": {"domain": ["50µM + 2 min", "50µM + 1 min", "50µM", "25µM + 1 min", "25µM"], "range": ["#aaa6cc", "#3b38c4", "#3ba03b", "#cc3333", "#a8a8a8"]},
          "legend": {"title": null, "orient": "none", "legendX": 714.8, "legendY": -1.5, "symbolType": "M-1.364,0H1.364", "symbolSize": 121, "symbolStrokeWidth": 1.2, "symbolOpacity": 0.45, "labelFont": "Liberation Sans", "labelFontSize": 11, "labelAlign": "right", "labelOffset": -22, "rowPadding": 0, "padding": 0,
            "labelColor": {"expr": "datum.value == '50µM + 2 min' ? '#a3a0c4' : datum.value == '50µM + 1 min' ? '#2e2bb8' : datum.value == '50µM' ? '#2f9a2f' : datum.value == '25µM + 1 min' ? '#cc2a2a' : '#9a9a9a'"},
            "encode": {"labels": {"fill": {"condition": [{"test": "datum.value == '50µM + 2 min'", "value": "#a3a0c4"}, {"test": "datum.value == '50µM + 1 min'", "value": "#2e2bb8"}, {"test": "datum.value == '50µM'", "value": "#2f9a2f"}, {"test": "datum.value == '25µM + 1 min'", "value": "#cc2a2a"}], "value": "#9a9a9a"}}}}}
      }
    },
    {
      "data": {"name": "arrow"},
      "mark": {"type": "rule", "color": "#111111", "strokeWidth": 2, "strokeDash": [2, 1.5]},
      "encoding": {
        "x": {"field": "x", "type": "quantitative", "title": "Longueur d’onde (nm)"},
        "y": {"field": "y", "type": "quantitative", "title": "Abs. (UA)"},
        "x2": {"field": "x2"},
        "y2": {"field": "y2"}
      }
    },
    {
      "data": {"name": "arrow"},
      "mark": {"type": "point", "shape": "triangle-right", "filled": true, "color": "#111111", "opacity": 1, "size": 55, "angle": 17},
      "encoding": {
        "x": {"field": "x2", "type": "quantitative", "title": "Longueur d’onde (nm)"},
        "y": {"field": "y2", "type": "quantitative", "title": "Abs. (UA)"}
      }
    }
  ]
},
{
  "width": 720.5, "height": 392,
  "title": {"text": "PBS 1x", "dx": 6, "offset": 11},
  "data": {"name": "pbs"},
  "mark": {"type": "line", "strokeWidth": 1.4},
  "encoding": {
    "x": {"field": "x", "type": "quantitative", "scale": {"domain": [239.3, 477.7], "nice": false, "zero": false},
      "axis": {"title": "Longueur d’onde (nm)", "titleX": 394.5, "titleY": 45.7, "tickCount": 500,
        "values": [240,245,250,255,260,265,270,275,280,285,290,295,300,305,310,315,320,325,330,335,340,345,350,355,360,365,370,375,380,385,390,395,400,405,410,415,420,425,430,435,440,445,450,455,460,465,470,475],
        "labelExpr": "datum.value == 475 ? ['475', 'nm'] : (datum.value % 25 == 0 ? '' + datum.value : '')",
        "labelLineHeight": 13.5,
        "tickSize": 6, "labelPadding": 3.5,
        "gridOpacity": {"condition": {"test": "datum.value % 25 == 0", "value": 1}, "value": 0},
        "encode": {"ticks": {"y2": {"condition": {"test": "datum.value % 25 == 0", "value": 6}, "value": 3}}}}},
    "y": {"field": "y", "type": "quantitative", "scale": {"domain": [-0.13, 0.703], "nice": false, "zero": false},
      "axis": {"title": "Abs. (UA)", "titleX": -57.2, "titleY": 170, "tickCount": 500,
        "values": [-0.12,-0.08,-0.04,0,0.04,0.08,0.12,0.16,0.2,0.24,0.28,0.32,0.36,0.4,0.44,0.48,0.52,0.56,0.6,0.64,0.68,0.5],
        "labelExpr": "datum.value == 0.5 ? 'Abs' : (indexof([0,0.2,0.4,0.6], datum.value) >= 0 ? '' + datum.value : '')",
        "tickSize": 12, "labelPadding": 3.5,
        "gridOpacity": {"condition": {"test": "indexof([0,0.2,0.4,0.6], datum.value) >= 0", "value": 1}, "value": 0},
        "tickOpacity": {"condition": {"test": "datum.value == 0.5", "value": 0}, "value": 1},
        "encode": {"ticks": {"x2": {"condition": {"test": "indexof([0,0.2,0.4,0.6], datum.value) >= 0", "value": -12}, "value": -6}}}}},
    "color": {"field": "s", "type": "nominal",
      "scale": {"domain": ["50µM + 1 min", "50µM", "25µM + 1 min", "25µM"], "range": ["#2222a8", "#38a038", "#2a2ae0", "#f4a03a"]},
      "legend": {"title": null, "orient": "none", "legendX": 696.35, "legendY": -0.5, "symbolType": "M-1.7,0H1.7", "symbolSize": 121, "symbolStrokeWidth": 1.2, "symbolOpacity": 0.45, "labelFont": "Liberation Sans", "labelFontSize": 11, "labelAlign": "right", "labelOffset": -17.85, "rowPadding": 0.7, "padding": 0,
        "labelColor": {"expr": "datum.value == '50µM + 1 min' ? '#2a2a9c' : datum.value == '50µM' ? '#2f9a2f' : datum.value == '25µM + 1 min' ? '#2626e0' : '#f39a2e'"},
        "encode": {"labels": {"fill": {"condition": [{"test": "datum.value == '50µM + 1 min'", "value": "#2a2a9c"}, {"test": "datum.value == '50µM'", "value": "#2f9a2f"}, {"test": "datum.value == '25µM + 1 min'", "value": "#2626e0"}], "value": "#f39a2e"}}}}}
  }
}
]
}
